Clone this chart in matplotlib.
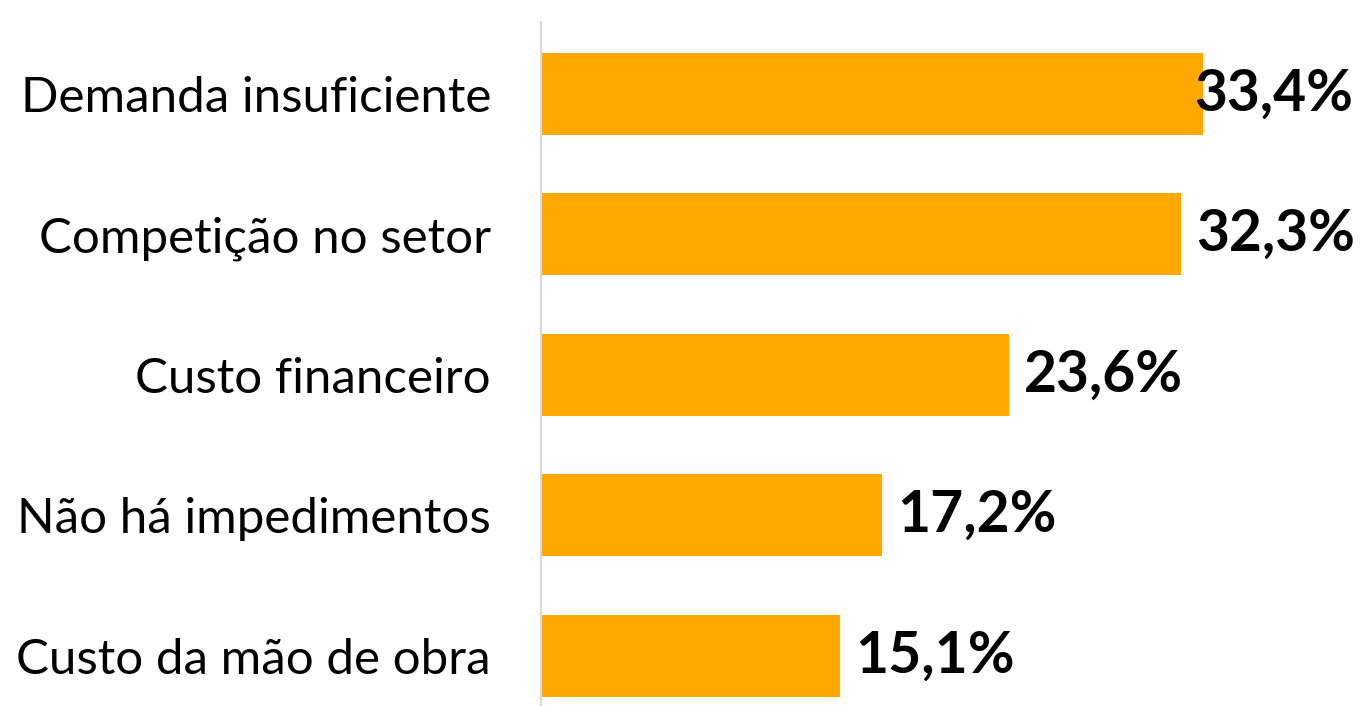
import matplotlib
matplotlib.use('Agg')
import matplotlib.pyplot as plt

categories = ['Demanda insuficiente', 'Competição no setor', 'Custo financeiro',
              'Não há impedimentos', 'Custo da mão de obra']
values = [33.4, 32.3, 23.6, 17.2, 15.1]
labels = ['33,4%', '32,3%', '23,6%', '17,2%', '15,1%']

plt.rcParams['font.family'] = ['Lato', 'DejaVu Sans']

fig = plt.figure(figsize=(13.61, 7.06), dpi=100)
ax = fig.add_axes([541 / 1361, 0, 820 / 1361, 684 / 706])

y = range(len(categories))
ax.barh(y, values, height=0.584, color='#FFA900', zorder=2)

xmax = 820 / 19.82
ax.set_xlim(0, xmax)
ax.set_ylim(4 + 0.356, -0.512)

for i, (v, lab) in enumerate(zip(values, labels)):
    if v + 8.5 > xmax:
        ax.text(xmax - 0.4, i, lab, ha='right', va='center', fontsize=41,
                fontweight='bold', zorder=3)
    else:
        ax.annotate(lab, (v, i), xytext=(11, 0), textcoords='offset points',
                    ha='left', va='center', fontsize=41, fontweight='bold')

ax.set_yticks(list(y))
ax.set_yticklabels(categories, fontsize=35.5)
ax.tick_params(axis='y', length=0, pad=36)
ax.set_xticks([])
for s in ['top', 'right', 'bottom']:
    ax.spines[s].set_visible(False)
ax.spines['left'].set_color('#d9d9d9')
ax.spines['left'].set_linewidth(1.5)

fig.savefig('out.png', dpi=100)
